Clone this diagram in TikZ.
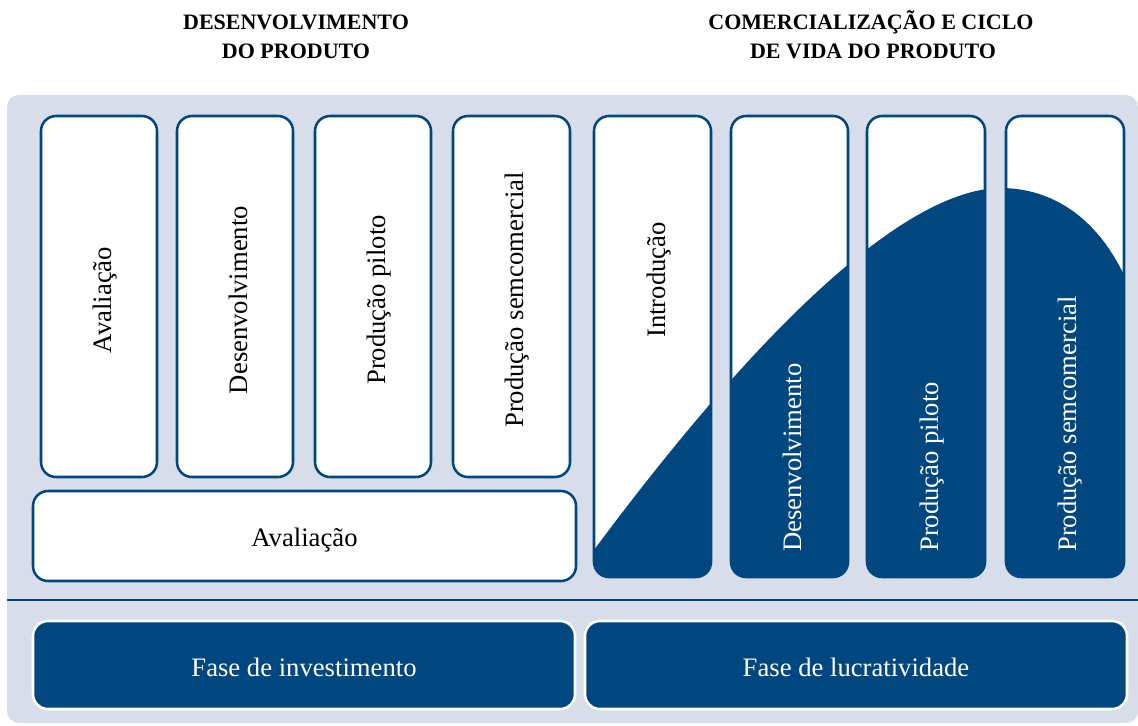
\documentclass[tikz,border=0pt]{standalone}
\usepackage{fontspec}
\setmainfont{Liberation Serif}
\definecolor{dblue}{RGB}{0,70,127}
\definecolor{panel}{RGB}{216,221,234}
\begin{document}
\begin{tikzpicture}[x=0.75pt,y=-0.75pt,
  stage/.style={draw=dblue, line width=1.9pt, rounded corners=11.25pt, fill=white},
  stageline/.style={draw=dblue, line width=1.9pt, rounded corners=11.25pt},
  lbl/.style={font=\fontsize{20}{24}\selectfont, inner sep=0pt},
  vlbl/.style={lbl, rotate=90},
  title/.style={font=\bfseries\fontsize{16.5}{20}\selectfont, inner sep=0pt, anchor=base},
  phase/.style={fill=dblue, draw=white, line width=1.9pt, rounded corners=11.25pt}]
\useasboundingbox (0,0) rectangle (1138,725);
% panel
\fill[panel, rounded corners=9pt] (7,95) rectangle (1138,723);
% titles
\node[title] (h1) at (296,29.5) {DESENVOLVIMENTO};
\node[title] (h2) at (296,58.5) {DO PRODUTO};
\node[title] (h3) at (871,29.5) {COMERCIALIZAÇÃO E CICLO};
\node[title] (h4) at (873,58.5) {DE VIDA DO PRODUTO};
% development boxes
\draw[stage] (41,116) rectangle (157,477);
\draw[stage] (177,116) rectangle (293,477);
\draw[stage] (315,116) rectangle (431,477);
\draw[stage] (453,116) rectangle (570,477);
\draw[stage] (33,491) rectangle (576,581);
% commercial boxes with curve
\foreach \xa/\xb in {594/711,731/848,867/985,1006/1124} {
  \begin{scope}
    \clip[rounded corners=11.25pt] (\xa,116) rectangle (\xb,577);
    \fill[white] (\xa,116) rectangle (\xb,577);
    \fill[dblue] (580,565) -- (594,550) .. controls (750,340) and (900,190) .. (1000,188)
      .. controls (1050,188) and (1095,215) .. (1124,275) -- (1140,320) -- (1140,600) -- (580,600) -- cycle;
  \end{scope}
  \draw[stageline] (\xa,116) rectangle (\xb,577);
}
% labels
\node[vlbl, anchor=base] (t1) at (111,300) {Avaliação};
\node[vlbl, anchor=base] (t2) at (247,300) {Desenvolvimento};
\node[vlbl, anchor=base] (t3) at (385,300) {Produção piloto};
\node[vlbl, anchor=base] (t4) at (523,300) {Produção semcomercial};
\node[vlbl, anchor=base west] (t5) at (665,338) {Introdução};
\node[vlbl, anchor=base west, text=white] (t6) at (801,552) {Desenvolvimento};
\node[vlbl, anchor=base west, text=white] (t7) at (938,552) {Produção piloto};
\node[vlbl, anchor=base west, text=white] (t8) at (1076,552) {Produção semcomercial};
\node[lbl, anchor=base] (t9) at (304.5,546) {Avaliação};
% divider
\draw[dblue, line width=2pt] (7,600) -- (1138,600);
% phases
\draw[phase] (33,621) rectangle (575,709);
\draw[phase] (585,621) rectangle (1127,709);
\node[lbl, anchor=base, text=white] (f1) at (304,676) {Fase de investimento};
\node[lbl, anchor=base, text=white] (f2) at (856,676) {Fase de lucratividade};
\end{tikzpicture}
\end{document}
